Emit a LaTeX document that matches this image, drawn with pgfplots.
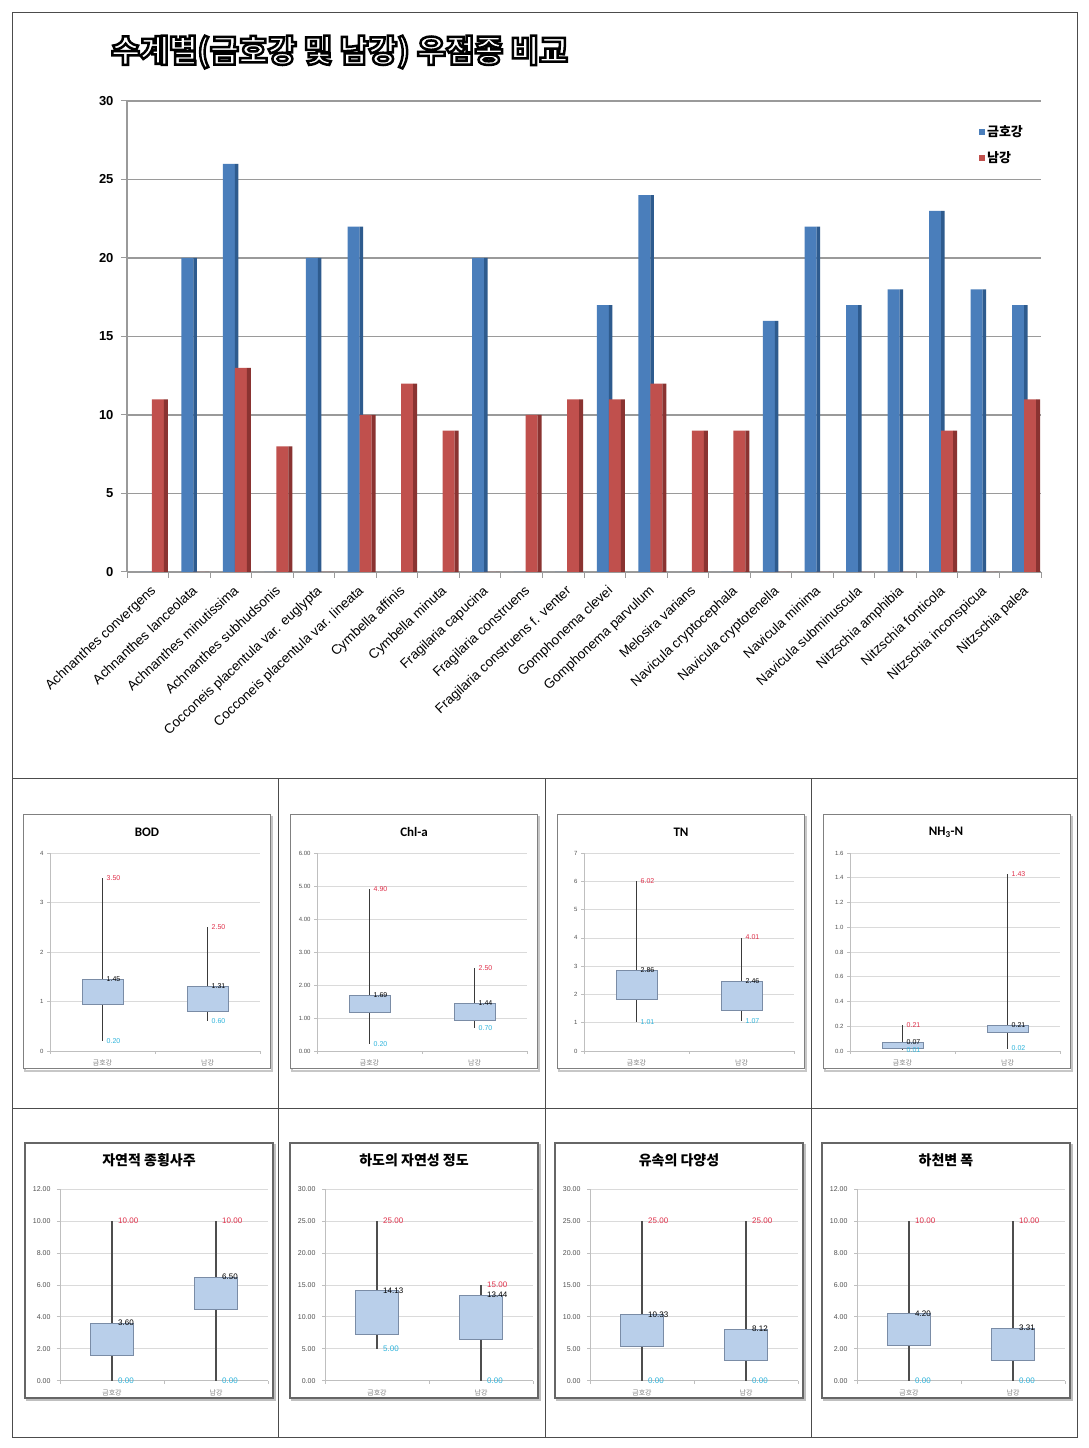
\documentclass[border=0pt]{standalone}
\usepackage{pgfplots}
\usepackage{pgfplotstable}
\pgfplotsset{compat=1.18}
\usepgfplotslibrary{statistics}
\usepackage{fontspec}
\setmainfont{Liberation Sans}
\newfontfamily\cjk{Noto Sans CJK KR}
\newfontfamily\carl{Carlito}
\definecolor{blueF}{HTML}{4A7EBB}
\definecolor{blueS}{HTML}{2E5B8E}
\definecolor{redF}{HTML}{C0504D}
\definecolor{redS}{HTML}{8A3331}
\definecolor{gridM}{HTML}{9A9A9A}
\definecolor{gridL}{HTML}{DADADA}
\definecolor{axisL}{HTML}{BFBFBF}
\definecolor{boxF}{HTML}{B9CFEA}
\definecolor{boxD}{HTML}{7A8CA6}
\definecolor{whisk}{HTML}{3A3A3A}
\definecolor{redL}{HTML}{E0304A}
\definecolor{cyanL}{HTML}{2EB4DC}
\definecolor{tickC}{HTML}{505050}

\pgfplotstableread{
x k n
1 0 11
2 20 0
3 26 13
4 0 8
5 20 0
6 22 10
7 0 12
8 0 9
9 20 0
10 0 10
11 0 11
12 17 11
13 24 12
14 0 9
15 0 9
16 16 0
17 22 0
18 17 0
19 18 0
20 23 9
21 18 0
22 17 11
}\spec

\pgfplotsset{
 panel/.style={scale only axis, anchor=south west, xmin=0.5, xmax=2.5, ymin=0,
   xtick={1,2}, xticklabels={{\cjk 금호강},{\cjk 남강}},
   axis x line*=bottom, axis y line*=left, ymajorgrids,
   grid style={draw=gridL, line width=0.6pt},
   axis line style={draw=axisL, line width=0.6pt},
   tick align=outside, major tick length=3pt, major x tick style={draw=none},
   minor xtick={0.5,1.5,2.5}, minor tick length=3pt, tick style={draw=axisL, line width=0.6pt},
   yticklabel style={font=\fontsize{6}{7}\selectfont, text=tickC},
   xticklabel style={font=\cjk\fontsize{7}{8}\selectfont, text=gray, yshift=-2pt},
   /pgf/number format/assume math mode=true,
   boxplot/draw direction=y,
   boxplot/whisker extend=0,
   boxplot/every box/.style={draw=boxD, fill=boxF, line width=0.6pt},
   boxplot/every median/.style={draw=boxD, line width=0.6pt},
   boxplot/every whisker/.style={draw=whisk, line width=1.5pt},
   clip=false,
 },
 p1/.style={panel, width=210pt, height=198pt, boxplot/box extend=0.39},
 p2/.style={panel, width=208pt, height=191.7pt, boxplot/box extend=0.41,
   boxplot/every whisker/.style={draw=whisk!90, line width=2pt},
   yticklabel style={font=\fontsize{7}{8}\selectfont, text=tickC, xshift=-3pt},
   yticklabel style={/pgf/number format/.cd, fixed, fixed zerofill, precision=2}},
}

% #1 position, #2 max, #3 q3, #4 min, #5 xshift, #6 font size
\newcommand\vals[6]{%
 \node[anchor=west, text=redL, font=\fontsize{#6}{#6}\selectfont, xshift=#5, inner sep=1pt] at (axis cs:#1,#2) {#2};
 \node[anchor=west, text=black, font=\fontsize{#6}{#6}\selectfont, xshift=#5, inner sep=1pt] at (axis cs:#1,#3) {#3};
 \node[anchor=west, text=cyanL, font=\fontsize{#6}{#6}\selectfont, xshift=#5, inner sep=1pt] at (axis cs:#1,#4) {#4};
}
\newcommand\bx[6]{%
 \addplot[boxplot prepared={draw position=#1, lower whisker=#2, lower quartile=#3, median=#4, upper quartile=#5, upper whisker=#6}] coordinates {};
}

\begin{document}
\begin{tikzpicture}[x=1pt,y=1pt]
\path[use as bounding box] (0,0) rectangle (1089,1448);
\fill[white] (0,0) rectangle (1089,1448);

% frames
\draw[black!70, line width=0.9pt] (12,11) rectangle (1077,1436);
\draw[black!70, line width=0.9pt] (12,670) -- (1077,670);
\draw[black!70, line width=0.9pt] (12,340) -- (1077,340);
\foreach \x in {278,545,811} \draw[black!70, line width=0.9pt] (\x,11) -- (\x,670);

% panel boxes row 1
\foreach \L in {23,290,557,823}{
 \draw[line width=2pt, black!22] (\L+2,377) rectangle (\L+249,631);
 \filldraw[fill=white, draw=black!50, line width=1pt] (\L,379) rectangle (\L+247,633);
}
% panel boxes row 2
\foreach \L in {25,290,555,822}{
 \draw[line width=2.2pt, black!25] (\L+2,48) rectangle (\L+250,303);
 \filldraw[fill=white, draw=black!60, line width=1.4pt] (\L,50) rectangle (\L+248,305);
}

% main title (outlined: fill white, stroke black)
\node[anchor=west, inner sep=0pt, font=\cjk\bfseries\fontsize{31.3}{34}\selectfont] at (111,1396)
 {\color{white}\special{pdf:literal direct 2 Tr 2.5 w 0 G}수계별(금호강 및 남강) 우점종 비교\special{pdf:literal direct 0 Tr}};

% main chart
\begin{axis}[at={(127pt,876pt)}, anchor=south west, scale only axis, width=914pt, height=471pt,
 xmin=0.5, xmax=22.5, ymin=0, ymax=30,
 axis x line*=bottom, axis y line*=left,
 ytick={0,5,...,30}, ymajorgrids, grid style={draw=gridM, line width=1.2pt},
 xtick={1,...,22},
 xticklabels={Achnanthes convergens, Achnanthes lanceolata, Achnanthes minutissima, Achnanthes subhudsonis, Cocconeis placentula var. euglypta, Cocconeis placentula var. lineata, Cymbella affinis, Cymbella minuta, Fragilaria capucina, Fragilaria construens, Fragilaria construens f. venter, Gomphonema clevei, Gomphonema parvulum, Melosira varians, Navicula cryptocephala, Navicula cryptotenella, Navicula minima, Navicula subminuscula, Nitzschia amphibia, Nitzschia fonticola, Nitzschia inconspicua, Nitzschia palea},
 major x tick style={draw=none},
 minor xtick={0.5,1.5,...,22.5},
 tick align=outside, major tick length=6pt, minor tick length=6pt,
 tick style={draw=gridM, line width=1pt},
 xticklabel style={rotate=43, anchor=north east, font=\fontsize{13.5}{14}\selectfont, inner sep=1pt, yshift=-5pt, xshift=-2pt},
 yticklabel style={font=\bfseries\fontsize{13}{14}\selectfont, xshift=-4pt},
 /pgf/number format/assume math mode=true,
 axis line style={draw=gridM, line width=1.2pt},
 legend style={at={(0.932,0.952)}, anchor=north west, draw=none, fill=none,
   font=\cjk\bfseries\fontsize{13}{15}\selectfont, row sep=9pt, inner sep=0pt},
 legend cell align=left,
]
\addplot[ybar, bar width=12pt, bar shift=-2pt, fill=blueF, draw=none,
  legend image code/.code={\fill[blueF] (0pt,-3pt) rectangle (6pt,3pt);}] table[x=x,y=k]{\spec};
\addlegendentry{금호강}
\addplot[ybar, bar width=3.5pt, bar shift=5.75pt, fill=blueS, draw=none, forget plot] table[x=x,y=k]{\spec};
\addplot[ybar, bar width=12pt, bar shift=10pt, fill=redF, draw=none,
  legend image code/.code={\fill[redF] (0pt,-3pt) rectangle (6pt,3pt);}] table[x=x,y=n]{\spec};
\addlegendentry{남강}
\addplot[ybar, bar width=4pt, bar shift=18pt, fill=redS, draw=none, forget plot] table[x=x,y=n]{\spec};
\end{axis}

% ---------- row 1 ----------
\node[font=\carl\bfseries\fontsize{13}{14}\selectfont] at (147,616) {BOD};
\begin{axis}[p1, at={(50pt,397pt)}, ymax=4, ytick={0,1,2,3,4}]
\bx{1}{0.20}{0.95}{1.45}{1.45}{3.50}
\bx{2}{0.60}{0.80}{1.31}{1.31}{2.50}
\vals{1}{3.50}{1.45}{0.20}{3pt}{7}
\vals{2}{2.50}{1.31}{0.60}{3pt}{7}
\end{axis}

\node[font=\carl\bfseries\fontsize{13}{14}\selectfont] at (414,616) {Chl-a};
\begin{axis}[p1, at={(317pt,397pt)}, ymax=6, ytick={0,1,...,6},
  yticklabel style={/pgf/number format/.cd, fixed, fixed zerofill, precision=2}]
\bx{1}{0.20}{1.18}{1.69}{1.69}{4.90}
\bx{2}{0.70}{0.92}{1.44}{1.44}{2.50}
\vals{1}{4.90}{1.69}{0.20}{3pt}{7}
\vals{2}{2.50}{1.44}{0.70}{3pt}{7}
\end{axis}

\node[font=\carl\bfseries\fontsize{13}{14}\selectfont] at (681,616) {TN};
\begin{axis}[p1, at={(584pt,397pt)}, ymax=7, ytick={0,1,...,7}]
\bx{1}{1.01}{1.82}{2.86}{2.86}{6.02}
\bx{2}{1.07}{1.43}{2.46}{2.46}{4.01}
\vals{1}{6.02}{2.86}{1.01}{3pt}{7}
\vals{2}{4.01}{2.46}{1.07}{3pt}{7}
\end{axis}

\node[font=\carl\bfseries\fontsize{13}{14}\selectfont] at (946,616) {NH\textsubscript{3}-N};
\begin{axis}[p1, at={(850pt,397pt)}, ymax=1.6, ytick={0,0.2,...,1.6},
  yticklabel style={/pgf/number format/.cd, fixed, fixed zerofill, precision=1}]
\bx{1}{0.01}{0.02}{0.07}{0.07}{0.21}
\bx{2}{0.02}{0.15}{0.21}{0.21}{1.43}
\vals{1}{0.21}{0.07}{0.01}{3pt}{7}
\vals{2}{1.43}{0.21}{0.02}{3pt}{7}
\end{axis}

% ---------- row 2 ----------
\node[font=\cjk\bfseries\fontsize{14}{15}\selectfont] at (149,288) {자연적 종횡사주};
\begin{axis}[p2, at={(60pt,67.3pt)}, ymax=12, ytick={0,2,...,12}]
\bx{1}{0}{1.59}{3.60}{3.60}{10}
\bx{2}{0}{4.47}{6.50}{6.50}{10}
\vals{1}{10.00}{3.60}{0.00}{5pt}{8}
\vals{2}{10.00}{6.50}{0.00}{5pt}{8}
\end{axis}

\node[font=\cjk\bfseries\fontsize{14}{15}\selectfont] at (414,288) {하도의 자연성 정도};
\begin{axis}[p2, at={(325pt,67.3pt)}, ymax=30, ytick={0,5,...,30}]
\bx{1}{5}{7.30}{14.13}{14.13}{25}
\bx{2}{0}{6.47}{13.44}{13.44}{15}
\vals{1}{25.00}{14.13}{5.00}{5pt}{8}
\vals{2}{15.00}{13.44}{0.00}{5pt}{8}
\end{axis}

\node[font=\cjk\bfseries\fontsize{14}{15}\selectfont] at (679,288) {유속의 다양성};
\begin{axis}[p2, at={(590pt,67.3pt)}, ymax=30, ytick={0,5,...,30}]
\bx{1}{0}{5.32}{10.33}{10.33}{25}
\bx{2}{0}{3.13}{8.12}{8.12}{25}
\vals{1}{25.00}{10.33}{0.00}{5pt}{8}
\vals{2}{25.00}{8.12}{0.00}{5pt}{8}
\end{axis}

\node[font=\cjk\bfseries\fontsize{14}{15}\selectfont] at (946,288) {하천변 폭};
\begin{axis}[p2, at={(857pt,67.3pt)}, ymax=12, ytick={0,2,...,12}]
\bx{1}{0}{2.21}{4.20}{4.20}{10}
\bx{2}{0}{1.29}{3.31}{3.31}{10}
\vals{1}{10.00}{4.20}{0.00}{5pt}{8}
\vals{2}{10.00}{3.31}{0.00}{5pt}{8}
\end{axis}

\end{tikzpicture}
\end{document}
